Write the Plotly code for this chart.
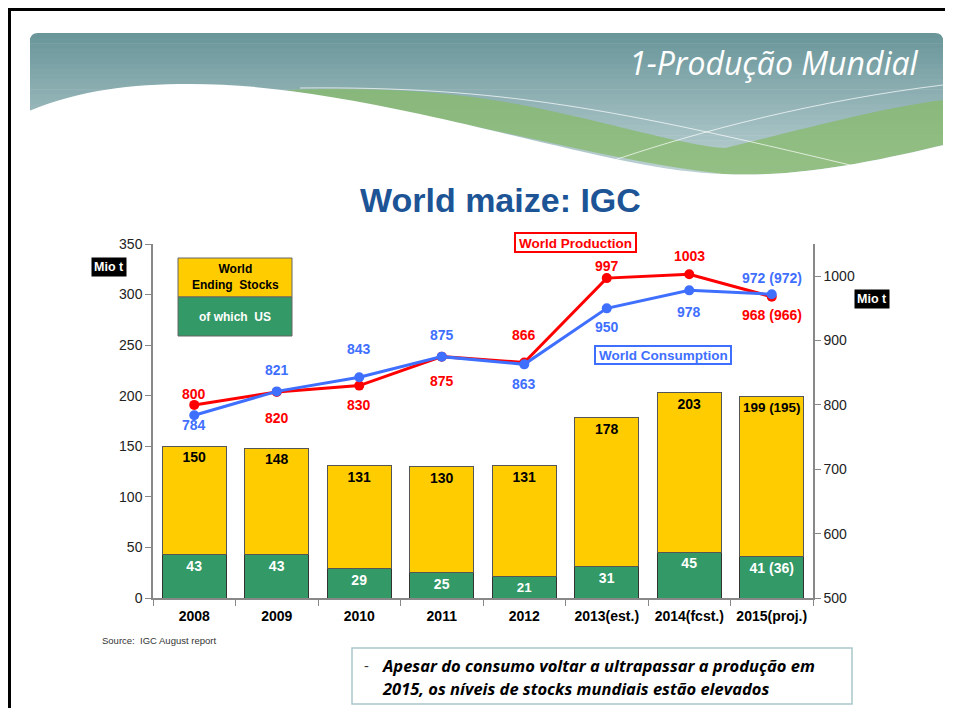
"""
World maize: IGC - stocks, production and consumption
"""
import plotly.graph_objects as go

years = ["2008", "2009", "2010", "2011", "2012", "2013(est.)", "2014(fcst.)", "2015(proj.)"]
world_stocks = [150, 148, 131, 130, 131, 178, 203, 199]
us_stocks = [43, 43, 29, 25, 21, 31, 45, 41]
world_stock_labels = ["150", "148", "131", "130", "131", "178", "203", "199 (195)"]
us_stock_labels = ["43", "43", "29", "25", "21", "31", "45", "41 (36)"]
production = [800, 820, 830, 875, 866, 997, 1003, 968]
consumption = [784, 821, 843, 875, 863, 950, 978, 972]
production_labels = ["800", "820", "830", "875", "866", "997", "1003", "968 (966)"]
consumption_labels = ["784", "821", "843", "875", "863", "950", "978", "972 (972)"]
# label shift above (+) or below (-) each point, in pixels
production_shift = [11, -26, -19, -24, 27, 12, 18, -18]
consumption_shift = [-10, 21, 28, 22, -20, -19, -22, 16]

# plot area in page pixels; the page body adds an 8px margin
OFF = 8
L, R, T, B = 153, 813, 244, 598
FIG_W, FIG_H = 937, 700


def px(x):
    return (x - L) / (R - L)


def py(y):
    return (B - y) / (B - T)


def mix(c1, c2, t):
    a = [int(c1[i:i + 2], 16) for i in (1, 3, 5)]
    b = [int(c2[i:i + 2], 16) for i in (1, 3, 5)]
    return "#" + "".join("%02x" % round(a[k] + (b[k] - a[k]) * t) for k in range(3))


ARIAL = "Liberation Sans, Arial, sans-serif"
YELLOW = "#FFCC00"
GREEN = "#339966"
RED = "#FF0000"
BLUE = "#3F6FFF"

fig = go.Figure()

fig.add_trace(
    go.Bar(
        x=years,
        y=us_stocks,
        marker=dict(color=GREEN, line=dict(color="#333333", width=1)),
        text=us_stock_labels,
        textposition="inside",
        insidetextanchor="end",
        textangle=0,
        textfont=dict(family=ARIAL, size=14, color="white", weight="bold"),
        hoverinfo="skip",
    )
)
fig.add_trace(
    go.Bar(
        x=years,
        y=[w - u for w, u in zip(world_stocks, us_stocks)],
        marker=dict(color=YELLOW, line=dict(color="#555555", width=1)),
        text=world_stock_labels,
        textposition="inside",
        insidetextanchor="end",
        textangle=0,
        textfont=dict(family=ARIAL, size=14, color="black", weight="bold"),
        hoverinfo="skip",
    )
)
fig.add_trace(
    go.Scatter(
        x=years,
        y=production,
        yaxis="y2",
        mode="lines+markers",
        line=dict(color=RED, width=3),
        marker=dict(color=RED, size=10),
    )
)
fig.add_trace(
    go.Scatter(
        x=years,
        y=consumption,
        yaxis="y2",
        mode="lines+markers",
        line=dict(color=BLUE, width=3),
        marker=dict(color=BLUE, size=10),
    )
)

annotations = []
for vals, labels, shifts, color in [
    (production, production_labels, production_shift, RED),
    (consumption, consumption_labels, consumption_shift, BLUE),
]:
    for i, (v, lab, s) in enumerate(zip(vals, labels, shifts)):
        annotations.append(
            dict(
                x=i, y=v, xref="x", yref="y2", text=lab, showarrow=False, yshift=s,
                font=dict(family=ARIAL, size=14, color=color, weight="bold"),
            )
        )

shapes = []

# slide frame (left and top edges only)
shapes.append(dict(type="path", xref="paper", yref="paper",
                   path=f"M {px(9.5)},{py(722)} L {px(9.5)},{py(9.5)} L {px(953)},{py(9.5)}",
                   line=dict(color="black", width=3), layer="below"))

# banner gradient
top_y, bot_y = 33, 176
n = 28
for i in range(n):
    y0 = top_y + (bot_y - top_y) * i / n
    y1 = top_y + (bot_y - top_y) * (i + 1) / n
    col = mix("#6A969A", "#BDD2D4", i / (n - 1))
    if i == 0:
        path = (f"M {px(30)},{py(y1)} L {px(30)},{py(y0 + 8)} Q {px(30)},{py(y0)} {px(38)},{py(y0)} "
                f"L {px(935)},{py(y0)} Q {px(943)},{py(y0)} {px(943)},{py(y0 + 8)} L {px(943)},{py(y1)} Z")
        shapes.append(dict(type="path", xref="paper", yref="paper", path=path,
                           fillcolor=col, line=dict(width=0), layer="below"))
    else:
        shapes.append(dict(type="rect", xref="paper", yref="paper",
                           x0=px(30), x1=px(943), y0=py(y0), y1=py(y1 + 0.6),
                           fillcolor=col, line=dict(width=0), layer="below"))

# green ribbon
green_path = (f"M {px(285)},{py(90)} C {px(380)},{py(87)} {px(460)},{py(90)} {px(560)},{py(113)} "
              f"C {px(640)},{py(131)} {px(690)},{py(146)} {px(725)},{py(148)} "
              f"C {px(800)},{py(130)} {px(880)},{py(108)} {px(943)},{py(100)} "
              f"L {px(943)},{py(145)} C {px(880)},{py(160)} {px(800)},{py(178)} {px(723)},{py(174)} "
              f"C {px(600)},{py(160)} {px(450)},{py(115)} {px(285)},{py(90)} Z")
shapes.append(dict(type="path", xref="paper", yref="paper", path=green_path,
                   fillcolor="rgba(135,185,105,0.75)", line=dict(width=0), layer="below"))

# white wave covering lower-left of banner and below
white_path = (f"M {px(29)},{py(111)} C {px(80)},{py(90)} {px(130)},{py(84)} {px(190)},{py(84)} "
              f"C {px(260)},{py(84)} {px(330)},{py(95)} {px(420)},{py(114)} "
              f"C {px(560)},{py(145)} {px(650)},{py(172)} {px(723)},{py(174)} "
              f"C {px(800)},{py(178)} {px(880)},{py(160)} {px(944)},{py(145)} "
              f"L {px(944)},{py(180)} L {px(29)},{py(180)} Z")
shapes.append(dict(type="path", xref="paper", yref="paper", path=white_path,
                   fillcolor="white", line=dict(width=0), layer="below"))

# thin light lines over the banner
shapes.append(dict(type="path", xref="paper", yref="paper",
                   path=f"M {px(300)},{py(88)} C {px(500)},{py(86)} {px(620)},{py(110)} {px(850)},{py(165)}",
                   line=dict(color="rgba(255,255,255,0.7)", width=1), layer="below"))
shapes.append(dict(type="path", xref="paper", yref="paper",
                   path=f"M {px(600)},{py(165)} C {px(700)},{py(130)} {px(820)},{py(100)} {px(943)},{py(85)}",
                   line=dict(color="rgba(255,255,255,0.7)", width=1), layer="below"))

# legend boxes
shapes.append(dict(type="rect", xref="paper", yref="paper", x0=px(178), x1=px(292), y0=py(297), y1=py(258),
                   fillcolor=YELLOW, line=dict(color="#666666", width=1)))
shapes.append(dict(type="rect", xref="paper", yref="paper", x0=px(178), x1=px(292), y0=py(336), y1=py(297),
                   fillcolor=GREEN, line=dict(color="#666666", width=1)))

# series name boxes
shapes.append(dict(type="rect", xref="paper", yref="paper", x0=px(515), x1=px(636), y0=py(252), y1=py(233),
                   fillcolor="white", line=dict(color=RED, width=2)))
shapes.append(dict(type="rect", xref="paper", yref="paper", x0=px(595), x1=px(731), y0=py(364), y1=py(346),
                   fillcolor="white", line=dict(color=BLUE, width=2)))

# text box at the bottom
shapes.append(dict(type="rect", xref="paper", yref="paper", x0=px(352), x1=px(852), y0=py(704), y1=py(648),
                   fillcolor="white", line=dict(color="#A9C6C9", width=1.5)))


def note(x, y, text, size, color="black", bold=False, family=ARIAL, italic=False,
         xanchor="center", bgcolor=None, **kw):
    annotations.append(dict(
        xref="paper", yref="paper", x=px(x), y=py(y), text=text, showarrow=False,
        xanchor=xanchor, yanchor="middle", bgcolor=bgcolor,
        font=dict(family=family, size=size, color=color,
                  weight="bold" if bold else "normal",
                  style="italic" if italic else "normal"),
        **kw,
    ))


note(921, 62, "1-Produção Mundial", 32, color="white", family="Open Sans, sans-serif",
     italic=True, xanchor="right")
note(500, 200, "World maize: IGC", 34, color="#1C5496", bold=True)
note(235, 277, "World<br>Ending  Stocks", 12, bold=True)
note(235, 317, "of which  US", 12, color="white", bold=True)
note(575, 243, "World Production", 13.5, color=RED, bold=True)
note(663, 355, "World Consumption", 13.5, color=BLUE, bold=True)
note(108.5, 267, "Mio t", 12.5, color="white", bold=True, bgcolor="black", borderpad=2)
note(871.5, 299, "Mio t", 12.5, color="white", bold=True, bgcolor="black", borderpad=2)
note(100, 640, "Source:  IGC August report", 9.5, color="#333333", xanchor="left")
note(362, 665, "-", 15, color="#333333", family="Open Sans, sans-serif", xanchor="left")
note(380, 665, "Apesar do consumo voltar a ultrapassar a produção em", 16.5, bold=True,
     italic=True, family="Open Sans, sans-serif", xanchor="left")
note(380, 688, "2015, os níveis de stocks mundiais estão elevados", 16.5, bold=True,
     italic=True, family="Open Sans, sans-serif", xanchor="left")

fig.update_layout(
    width=FIG_W,
    height=FIG_H,
    margin=dict(l=L - OFF, r=FIG_W - (R - OFF), t=T - OFF, b=FIG_H - (B - OFF)),
    paper_bgcolor="white",
    plot_bgcolor="white",
    barmode="stack",
    bargap=0.23,
    showlegend=False,
    font=dict(family=ARIAL, size=14, color="#222222"),
    xaxis=dict(
        type="category",
        range=[-0.5, len(years) - 0.5],
        showline=True, linecolor="#888888", linewidth=1.5,
        ticks="outside", tickson="boundaries", ticklen=6, tickcolor="#888888",
        tickfont=dict(family=ARIAL, size=14, color="black", weight="bold"),
        ticklabelstandoff=4,
        showgrid=False,
    ),
    yaxis=dict(
        range=[0, 350], dtick=50,
        showline=True, linecolor="#888888", linewidth=1.5,
        ticks="outside", ticklen=6, tickcolor="#888888",
        showgrid=False, zeroline=False,
        tickfont=dict(family=ARIAL, size=14, color="#222222"),
    ),
    yaxis2=dict(
        range=[500, 1050], overlaying="y", side="right",
        showline=True, linecolor="#888888", linewidth=1.5,
        ticks="outside", ticklen=6, tickcolor="#888888",
        showgrid=False, zeroline=False,
        tickvals=[500, 600, 700, 800, 900, 1000],
        tickfont=dict(family=ARIAL, size=14, color="#222222"),
    ),
    shapes=shapes,
    annotations=annotations,
)

fig.write_html("out.html")
